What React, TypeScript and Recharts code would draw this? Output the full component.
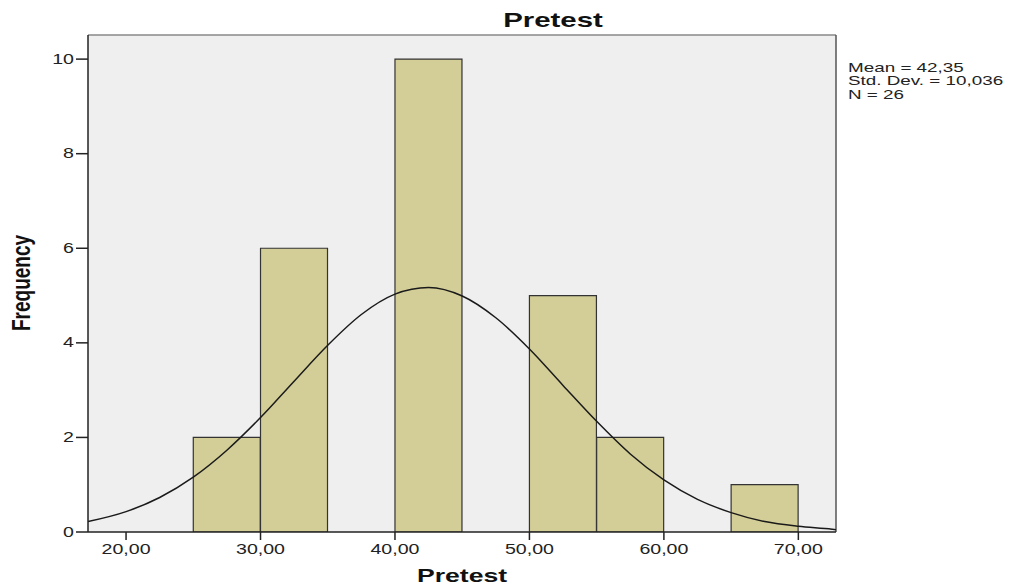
import React from "react";
import {
  Bar,
  CartesianGrid,
  ComposedChart,
  Line,
  ReferenceLine,
  XAxis,
  YAxis,
} from "recharts";

// histogram bins (centre of each 5-wide bin) and their counts, empty bins as null
const binMids = [27.5, 32.5, 37.5, 42.5, 47.5, 52.5, 57.5, 62.5, 67.5];
const binCounts = [2, 6, null, 10, null, 5, 2, null, 1];

// normal curve
const curveX = [
  17.17, 20, 22.5, 25, 27.5, 30, 32.5, 35, 37.5, 40, 42.5, 45, 47.5, 50, 52.5,
  55, 57.5, 60, 62.5, 65, 67.5, 70, 72.5, 72.8,
];
const curveY = [
  0.22, 0.43, 0.73, 1.16, 1.73, 2.42, 3.19, 3.95, 4.6, 5.03, 5.17, 4.99, 4.53,
  3.87, 3.1, 2.34, 1.65, 1.1, 0.69, 0.41, 0.22, 0.12, 0.06, 0.05,
];

const xTicks = [20, 30, 40, 50, 60, 70];
const yTicks = [0, 2, 4, 6, 8, 10];
const statLines = ["Mean = 42,35", "Std. Dev. = 10,036", "N = 26"];

const X_MIN = 17.17;
const X_MAX = 72.8;
const Y_MAX = 10.51;

const bins = binMids.map((x, i) => ({ x, freq: binCounts[i] }));
const curve = curveX.map((x, i) => ({ x, curve: curveY[i] }));

const FONT = "'Liberation Sans', Arial, sans-serif";
const SX = 1.4;

const YTick = ({ x, y, payload }: any) => (
  <text
    transform={`translate(${x},${y}) scale(${SX},1)`}
    textAnchor="end"
    dominantBaseline="central"
    fontFamily={FONT}
    fontSize={14}
    fill="#222"
  >
    {payload.value}
  </text>
);

const XTick = ({ x, y, payload }: any) => (
  <text
    transform={`translate(${x},${y + 12}) scale(${SX},1)`}
    textAnchor="middle"
    fontFamily={FONT}
    fontSize={14}
    fill="#222"
  >
    {payload.value.toFixed(2).replace(".", ",")}
  </text>
);

export default function App() {
  return (
    <div
      style={{
        position: "absolute",
        left: 0,
        top: 0,
        width: 1014,
        height: 586,
        background: "#fff",
      }}
    >
      <ComposedChart
        width={1014}
        height={586}
        data={bins}
        barCategoryGap={0}
        barGap={0}
        margin={{ top: 35, right: 178, bottom: 0, left: 0 }}
      >
        <CartesianGrid fill="#efefef" horizontal={false} vertical={false} />
        <XAxis
          dataKey="x"
          type="number"
          domain={[X_MIN, X_MAX]}
          allowDataOverflow
          ticks={xTicks}
          tick={<XTick />}
          tickSize={8}
          height={54}
          stroke="#222"
          strokeWidth={1.5}
        />
        <XAxis
          xAxisId="curve"
          dataKey="x"
          type="number"
          domain={[X_MIN, X_MAX]}
          allowDataOverflow
          hide
        />
        <YAxis
          type="number"
          domain={[0, Y_MAX]}
          allowDataOverflow
          ticks={yTicks}
          tick={<YTick />}
          tickSize={12}
          width={88}
          stroke="#222"
          strokeWidth={1.5}
        />
        <ReferenceLine y={Y_MAX} stroke="#888" strokeWidth={1.5} />
        <ReferenceLine x={X_MAX} stroke="#555" strokeWidth={1.5} />
        <Bar
          dataKey="freq"
          fill="#d3ce97"
          stroke="#333"
          strokeWidth={1.2}
          isAnimationActive={false}
        />
        <Line
          xAxisId="curve"
          data={curve}
          dataKey="curve"
          type="monotone"
          stroke="#1a1a1a"
          strokeWidth={1.5}
          dot={false}
          isAnimationActive={false}
        />
      </ComposedChart>
      <svg
        width={1014}
        height={586}
        style={{ position: "absolute", left: 0, top: 0, pointerEvents: "none" }}
        fontFamily={FONT}
      >
        <text
          transform={`translate(553,27) scale(${SX},1)`}
          textAnchor="middle"
          fontSize={21}
          fontWeight="bold"
          fill="#111"
        >
          Pretest
        </text>
        <text
          transform={`translate(462,582) scale(${SX},1)`}
          textAnchor="middle"
          fontSize={19}
          fontWeight="bold"
          fill="#111"
        >
          Pretest
        </text>
        <text
          transform={`translate(30,283) scale(${SX},1) rotate(-90)`}
          textAnchor="middle"
          fontSize={19}
          fontWeight="bold"
          fill="#111"
        >
          Frequency
        </text>
        {statLines.map((s, i) => (
          <text
            key={s}
            transform={`translate(848,${72 + i * 13.3}) scale(1.45,1)`}
            fontSize={13}
            fill="#222"
          >
            {s}
          </text>
        ))}
      </svg>
    </div>
  );
}
